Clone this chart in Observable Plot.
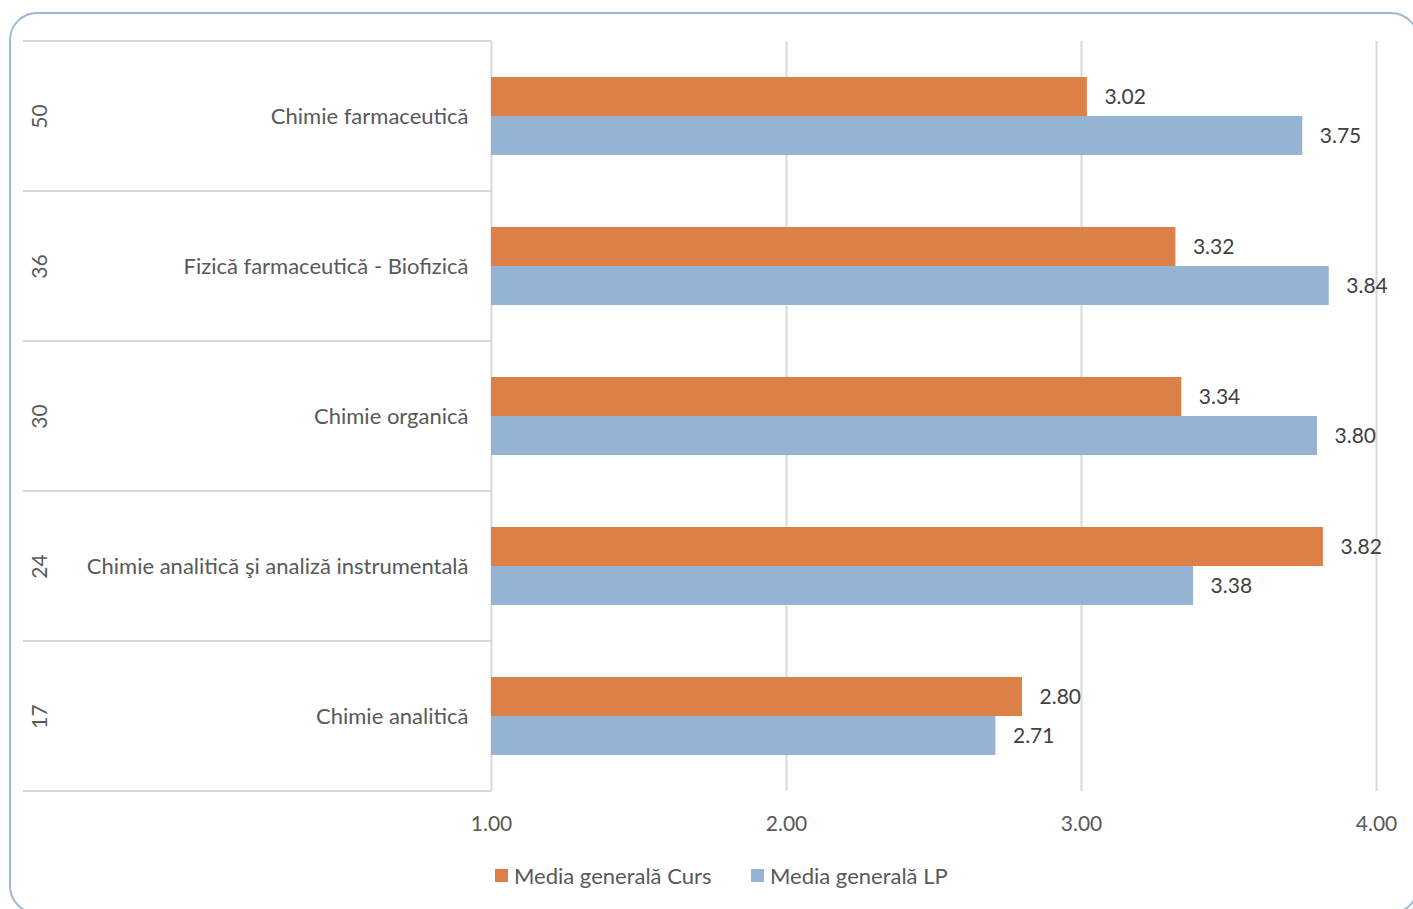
<!DOCTYPE html>
<html>
<head>
<meta charset="utf-8">
<script src="https://cdn.jsdelivr.net/npm/d3@7"></script>
<script src="https://cdn.jsdelivr.net/npm/@observablehq/plot@0.6"></script>
<style>
  html, body { margin: 0; padding: 0; background: #fff; }
  #wrap { position: relative; width: 1413px; height: 909px; overflow: hidden; font-family: Lato, "Open Sans", sans-serif; }
  #border { position: absolute; left: 9px; top: 12px; width: 1410px; height: 902px; border: 2px solid #9bb8d6; border-radius: 28px; box-sizing: border-box; }
  #chart { position: absolute; left: 0; top: 0; }
  #legend { position: absolute; top: 862px; left: 0; width: 1413px; font-size: 22px; color: #595959; }
  .item { position: absolute; top: 0; display: flex; align-items: center; white-space: nowrap; }
  .sw { width: 13px; height: 13px; margin-right: 6px; display: inline-block; }
</style>
</head>
<body>
<div id="wrap">
  <div id="border"></div>
  <div id="chart"></div>
  <div id="legend"></div>
</div>
<script>
// ---- data ----
const categories = [
  "Chimie farmaceutică",
  "Fizică farmaceutică - Biofizică",
  "Chimie organică",
  "Chimie analitică şi analiză instrumentală",
  "Chimie analitică"
];
const groupNumbers = [50, 36, 30, 24, 17];
const seriesNames = ["Media generală Curs", "Media generală LP"];
const cursValues = [3.02, 3.32, 3.34, 3.82, 2.80];
const lpValues = [3.75, 3.84, 3.80, 3.38, 2.71];
const xTicks = [1, 2, 3, 4];
const colors = ["#dd8047", "#95b4d2"];

const data = [];
categories.forEach((c, i) => {
  data.push({cat: c, series: seriesNames[0], value: cursValues[i]});
  data.push({cat: c, series: seriesNames[1], value: lpValues[i]});
});
const catRows = categories.map((c, i) => ({cat: c, num: groupNumbers[i]}));

const FONT = "Lato, 'Open Sans', sans-serif";
const plot = Plot.plot({
  width: 1413,
  height: 850,
  marginLeft: 491,
  marginRight: 37,
  marginTop: 41,
  marginBottom: 59,
  style: {fontFamily: FONT, fontSize: "21px", color: "#595959", background: "transparent", overflow: "visible"},
  x: {domain: [1, 4], ticks: xTicks, tickFormat: d => d.toFixed(2), tickSize: 0, tickPadding: 25, label: null},
  fy: {domain: categories, padding: 0, axis: null},
  y: {domain: seriesNames, paddingInner: 0, paddingOuter: 0.923, axis: null},
  color: {domain: seriesNames, range: colors},
  marks: [
    Plot.ruleX(xTicks.slice(1), {stroke: "#d9d9d9", strokeWidth: 2}),
    Plot.ruleX([xTicks[0]], {stroke: "#d9d9d9", strokeWidth: 2}),
    Plot.barX(data, {fy: "cat", y: "series", x1: xTicks[0], x2: "value", fill: "series", insetTop: 0, insetBottom: 0}),
    Plot.text(data, {fy: "cat", y: "series", x: "value", text: d => d.value.toFixed(2), dx: 17, textAnchor: "start", fill: "#404040", fontSize: 21}),
    Plot.text(catRows, {fy: "cat", text: "cat", frameAnchor: "left", dx: -23, textAnchor: "end", fill: "#595959", fontSize: 22}),
    Plot.text(catRows, {fy: "cat", text: d => String(d.num), frameAnchor: "left", dx: -451, rotate: -90, textAnchor: "middle", fill: "#595959", fontSize: 21})
  ]
});
document.getElementById("chart").appendChild(plot);

// left category table lines at facet boundaries, using the plot's fy scale
const fy = plot.scale("fy");
const bw = fy.bandwidth;
const bounds = categories.map(c => fy.apply(c));
bounds.push(fy.apply(categories[categories.length - 1]) + bw);
const svg = d3.select(plot);
svg.insert("g", ":first-child")
  .selectAll("line").data(bounds).join("line")
  .attr("x1", 23).attr("x2", 491)
  .attr("y1", d => d).attr("y2", d => d)
  .attr("stroke", "#d9d9d9").attr("stroke-width", 2);

// legend
const legend = document.getElementById("legend");
const lefts = [495, 751];
seriesNames.forEach((s, i) => {
  const it = document.createElement("div");
  it.className = "item";
  it.style.left = lefts[i] + "px";
  it.innerHTML = `<span class="sw" style="background:${colors[i]}"></span><span>${s}</span>`;
  legend.appendChild(it);
});
</script>
</body>
</html>
